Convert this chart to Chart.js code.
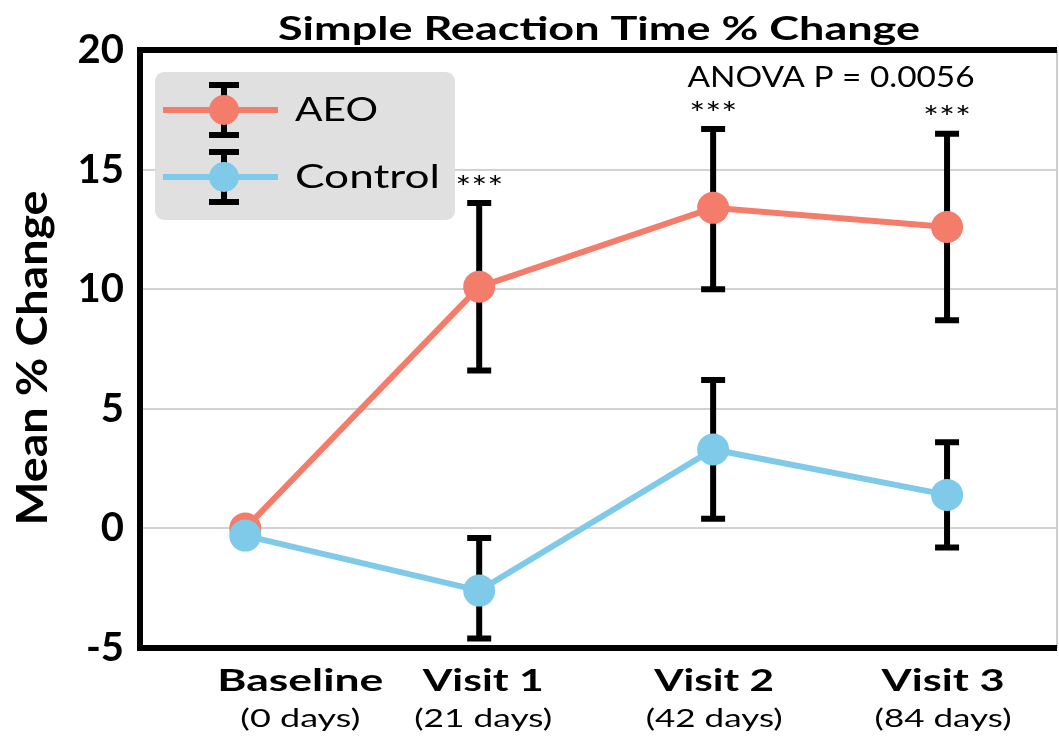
<!DOCTYPE html>
<html>
<head>
<meta charset="utf-8">
<script src="https://cdn.jsdelivr.net/npm/chart.js@4"></script>
<style>
  html, body { margin: 0; padding: 0; background: #fff; overflow: hidden; }
  canvas { display: block; }
</style>
</head>
<body>
<canvas id="grafico" width="1059" height="740"></canvas>
<script>
const categories = ['Baseline', 'Visit 1', 'Visit 2', 'Visit 3'];
const dayLabels = ['(0 days)', '(21 days)', '(42 days)', '(84 days)'];
const yTicks = [-5, 0, 5, 10, 15, 20];

const aeoMean = [0, 10.1, 13.4, 12.6];
const aeoLow = [null, 6.6, 10.0, 8.7];
const aeoHigh = [null, 13.6, 16.7, 16.5];

const controlMean = [-0.3, -2.6, 3.3, 1.4];
const controlLow = [null, -4.6, 0.4, -0.8];
const controlHigh = [null, -0.4, 6.2, 3.6];

const stars = ['', '***', '***', '***'];

const FONT = 'Lato, "Open Sans", sans-serif';
const salmon = '#f47c6b';
const azul = '#7fc9e9';

// deslocamento e largura dos rotulos do eixo x (estilo)
const labelShift = [55, 4, 1, -4];
const labelWidth = [166, 121, 120, 123];
const dayWidth = [120, 138, 137, 137];

function pontos(valores) {
  return valores.map((v, i) => ({ x: i, y: v }));
}

// escreve texto esticado na horizontal ate a largura pedida
function texto(ctx, str, x, y, font, largura) {
  ctx.font = font;
  const w = ctx.measureText(str).width;
  const sx = largura ? largura / w : 1;
  ctx.save();
  ctx.translate(x, y);
  ctx.scale(sx, 1);
  ctx.fillText(str, 0, 0);
  ctx.restore();
}

const errorBars = {
  id: 'errorBars',
  beforeDatasetsDraw(chart) {
    const ctx = chart.ctx;
    const x = chart.scales.x;
    const y = chart.scales.y;
    ctx.save();
    ctx.strokeStyle = '#000';
    ctx.lineWidth = 6;
    [[aeoLow, aeoHigh], [controlLow, controlHigh]].forEach(([low, high]) => {
      categories.forEach((c, i) => {
        if (low[i] === null) return;
        const px = x.getPixelForValue(i);
        const y1 = y.getPixelForValue(low[i]);
        const y2 = y.getPixelForValue(high[i]);
        ctx.beginPath();
        ctx.moveTo(px, y1); ctx.lineTo(px, y2);
        ctx.moveTo(px - 12, y1); ctx.lineTo(px + 12, y1);
        ctx.moveTo(px - 12, y2); ctx.lineTo(px + 12, y2);
        ctx.stroke();
      });
    });
    ctx.restore();
  },
  afterDraw(chart) {
    const ctx = chart.ctx;
    const area = chart.chartArea;
    const x = chart.scales.x;
    const y = chart.scales.y;
    ctx.save();

    // moldura
    ctx.strokeStyle = '#cfcfcf';
    ctx.lineWidth = 2;
    ctx.beginPath();
    ctx.moveTo(area.right, area.top); ctx.lineTo(area.right, area.bottom);
    ctx.stroke();
    ctx.strokeStyle = '#000';
    ctx.lineWidth = 6;
    ctx.beginPath();
    ctx.moveTo(area.right, area.top);
    ctx.lineTo(area.left, area.top);
    ctx.lineTo(area.left, area.bottom);
    ctx.lineTo(area.right, area.bottom);
    ctx.stroke();

    ctx.fillStyle = '#000';
    ctx.textAlign = 'center';
    ctx.textBaseline = 'middle';

    // titulo
    texto(ctx, 'Simple Reaction Time % Change', 599, 30, 'bold 32px ' + FONT, 642);

    // titulo do eixo y
    ctx.save();
    ctx.translate(33, 358);
    ctx.rotate(-Math.PI / 2);
    texto(ctx, 'Mean % Change', 0, 0, 'bold 42px ' + FONT, 335);
    ctx.restore();

    // rotulos x
    categories.forEach((c, i) => {
      const px = x.getPixelForValue(i) + labelShift[i];
      texto(ctx, c, px, 681, 'bold 31px ' + FONT, labelWidth[i]);
      texto(ctx, dayLabels[i], px, 719, '25px ' + FONT, dayWidth[i]);
    });

    // anova e asteriscos
    texto(ctx, 'ANOVA P = 0.0056', 831, 78, '28px ' + FONT, 287);
    stars.forEach((s, i) => {
      if (!s) return;
      texto(ctx, s, x.getPixelForValue(i), y.getPixelForValue(aeoHigh[i]) - 15, '30px ' + FONT, 48);
    });

    // legenda
    ctx.fillStyle = '#e0e0e0';
    ctx.beginPath();
    ctx.roundRect(155, 72, 300, 148, 9);
    ctx.fill();
    [['AEO', salmon, 110, 83], ['Control', azul, 177, 145]].forEach(([nome, cor, ly, lw]) => {
      ctx.strokeStyle = '#000';
      ctx.lineWidth = 6;
      ctx.beginPath();
      ctx.moveTo(224, ly - 25); ctx.lineTo(224, ly + 25);
      ctx.moveTo(209, ly - 25); ctx.lineTo(239, ly - 25);
      ctx.moveTo(209, ly + 25); ctx.lineTo(239, ly + 25);
      ctx.stroke();
      ctx.strokeStyle = cor;
      ctx.beginPath();
      ctx.moveTo(163, ly); ctx.lineTo(278, ly);
      ctx.stroke();
      ctx.fillStyle = cor;
      ctx.beginPath();
      ctx.arc(224, ly, 15, 0, Math.PI * 2);
      ctx.fill();
      ctx.fillStyle = '#000';
      ctx.textAlign = 'left';
      texto(ctx, nome, 295, ly + 1, '32px ' + FONT, lw);
    });
    ctx.restore();
  }
};

const ctx = document.getElementById('grafico').getContext('2d');

const grafico = new Chart(ctx, {
  type: 'line',
  data: {
    datasets: [{
      label: 'Control',
      data: pontos(controlMean),
      borderColor: azul,
      backgroundColor: azul,
      borderWidth: 6,
      pointRadius: 16,
      pointBorderWidth: 0
    }, {
      label: 'AEO',
      data: pontos(aeoMean),
      borderColor: salmon,
      backgroundColor: salmon,
      borderWidth: 6,
      pointRadius: 16,
      pointBorderWidth: 0
    }]
  },
  options: {
    responsive: false,
    animation: false,
    layout: { autoPadding: false, padding: { top: 50, right: 2 } },
    plugins: {
      legend: { display: false },
      tooltip: { enabled: false }
    },
    scales: {
      x: {
        type: 'linear',
        min: -0.45,
        max: 3.47,
        grid: { display: false },
        border: { display: false },
        ticks: { display: false },
        afterFit: (scale) => { scale.height = 92; }
      },
      y: {
        min: -5,
        max: 20,
        afterBuildTicks: (scale) => { scale.ticks = yTicks.map(v => ({ value: v })); },
        grid: { color: '#d2d2d2', lineWidth: 2, drawTicks: false },
        border: { display: false },
        ticks: {
          color: '#000',
          padding: 16,
          font: { family: FONT, size: 40, weight: 'bold' }
        },
        afterFit: (scale) => { scale.width = 140; }
      }
    }
  },
  plugins: [errorBars]
});
</script>
</body>
</html>
